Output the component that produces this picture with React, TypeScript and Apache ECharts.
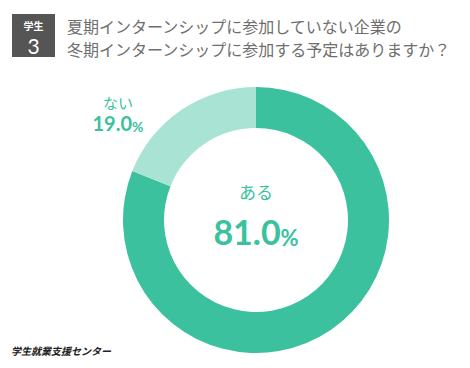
import React, { useEffect, useRef } from "react";
import * as echarts from "echarts";

const categories = ["ある", "ない"];
const values = [81.0, 19.0];
const colors = ["#3bc19d", "#a9e3d3"];
const titleLines = [
  "夏期インターンシップに参加していない企業の",
  "冬期インターンシップに参加する予定はありますか？",
];
const badgeTop = "学生";
const badgeNum = "3";
const footer = "学生就業支援センター";

export default function App() {
  const ref = useRef<HTMLDivElement>(null);
  useEffect(() => {
    document.body.style.margin = "0";
    const chart = echarts.init(ref.current!, null, { renderer: "svg" });
    const cx = 256;
    const cy = 220;
    const jp = "'Noto Sans CJK JP', sans-serif";
    const num = "Lato, 'Noto Sans', sans-serif";
    chart.setOption({
      animation: false,
      backgroundColor: "#ffffff",
      series: [
        {
          type: "pie",
          center: [cx, cy],
          radius: [92, 133],
          startAngle: 90,
          clockwise: true,
          silent: true,
          label: { show: false },
          labelLine: { show: false },
          data: categories.map((c, i) => ({
            name: c,
            value: values[i],
            itemStyle: { color: colors[i] },
          })),
        },
      ],
      graphic: [
        { type: "rect", shape: { x: 12, y: 14, width: 43, height: 43 }, style: { fill: "#555555" } },
        {
          type: "text",
          x: 33.5,
          y: 25,
          style: { text: badgeTop, fill: "#ffffff", font: `bold 10px ${jp}`, textAlign: "center", textVerticalAlign: "middle" },
        },
        {
          type: "text",
          x: 33.5,
          y: 45,
          style: { text: badgeNum, fill: "#ffffff", font: `21px ${num}`, textAlign: "center", textVerticalAlign: "middle" },
        },
        ...titleLines.map((t, i) => ({
          type: "text",
          x: 67,
          y: 26 + i * 23,
          style: { text: t, fill: "#6e6e6e", font: `16px ${jp}`, textAlign: "left", textVerticalAlign: "middle" },
        })),
        {
          type: "text",
          x: cx,
          y: 191,
          style: { text: categories[0], fill: colors[0], font: `17px ${jp}`, textAlign: "center", textVerticalAlign: "middle" },
        },
        {
          type: "text",
          x: cx,
          y: 231,
          style: {
            text: `{a|${values[0].toFixed(1)}}{b|%}`,
            textAlign: "center",
            textVerticalAlign: "middle",
            rich: {
              a: { fill: colors[0], font: `bold 34px ${num}`, verticalAlign: "bottom" },
              b: { fill: colors[0], font: `bold 22px ${num}`, verticalAlign: "bottom" },
            },
          },
        },
        {
          type: "text",
          x: 118,
          y: 102,
          style: { text: categories[1], fill: colors[0], font: `15px ${jp}`, textAlign: "center", textVerticalAlign: "middle" },
        },
        {
          type: "text",
          x: 118,
          y: 123,
          style: {
            text: `{a|${values[1].toFixed(1)}}{b|%}`,
            textAlign: "center",
            textVerticalAlign: "middle",
            rich: {
              a: { fill: colors[0], font: `bold 20px ${num}`, verticalAlign: "bottom" },
              b: { fill: colors[0], font: `bold 14px ${num}`, verticalAlign: "bottom" },
            },
          },
        },
        {
          type: "text",
          x: 11,
          y: 350,
          style: { text: footer, fill: "#222222", font: `italic bold 10px ${jp}`, textAlign: "left", textVerticalAlign: "middle" },
        },
      ],
    });
    return () => chart.dispose();
  }, []);
  return <div ref={ref} style={{ width: 470, height: 368 }} />;
}
